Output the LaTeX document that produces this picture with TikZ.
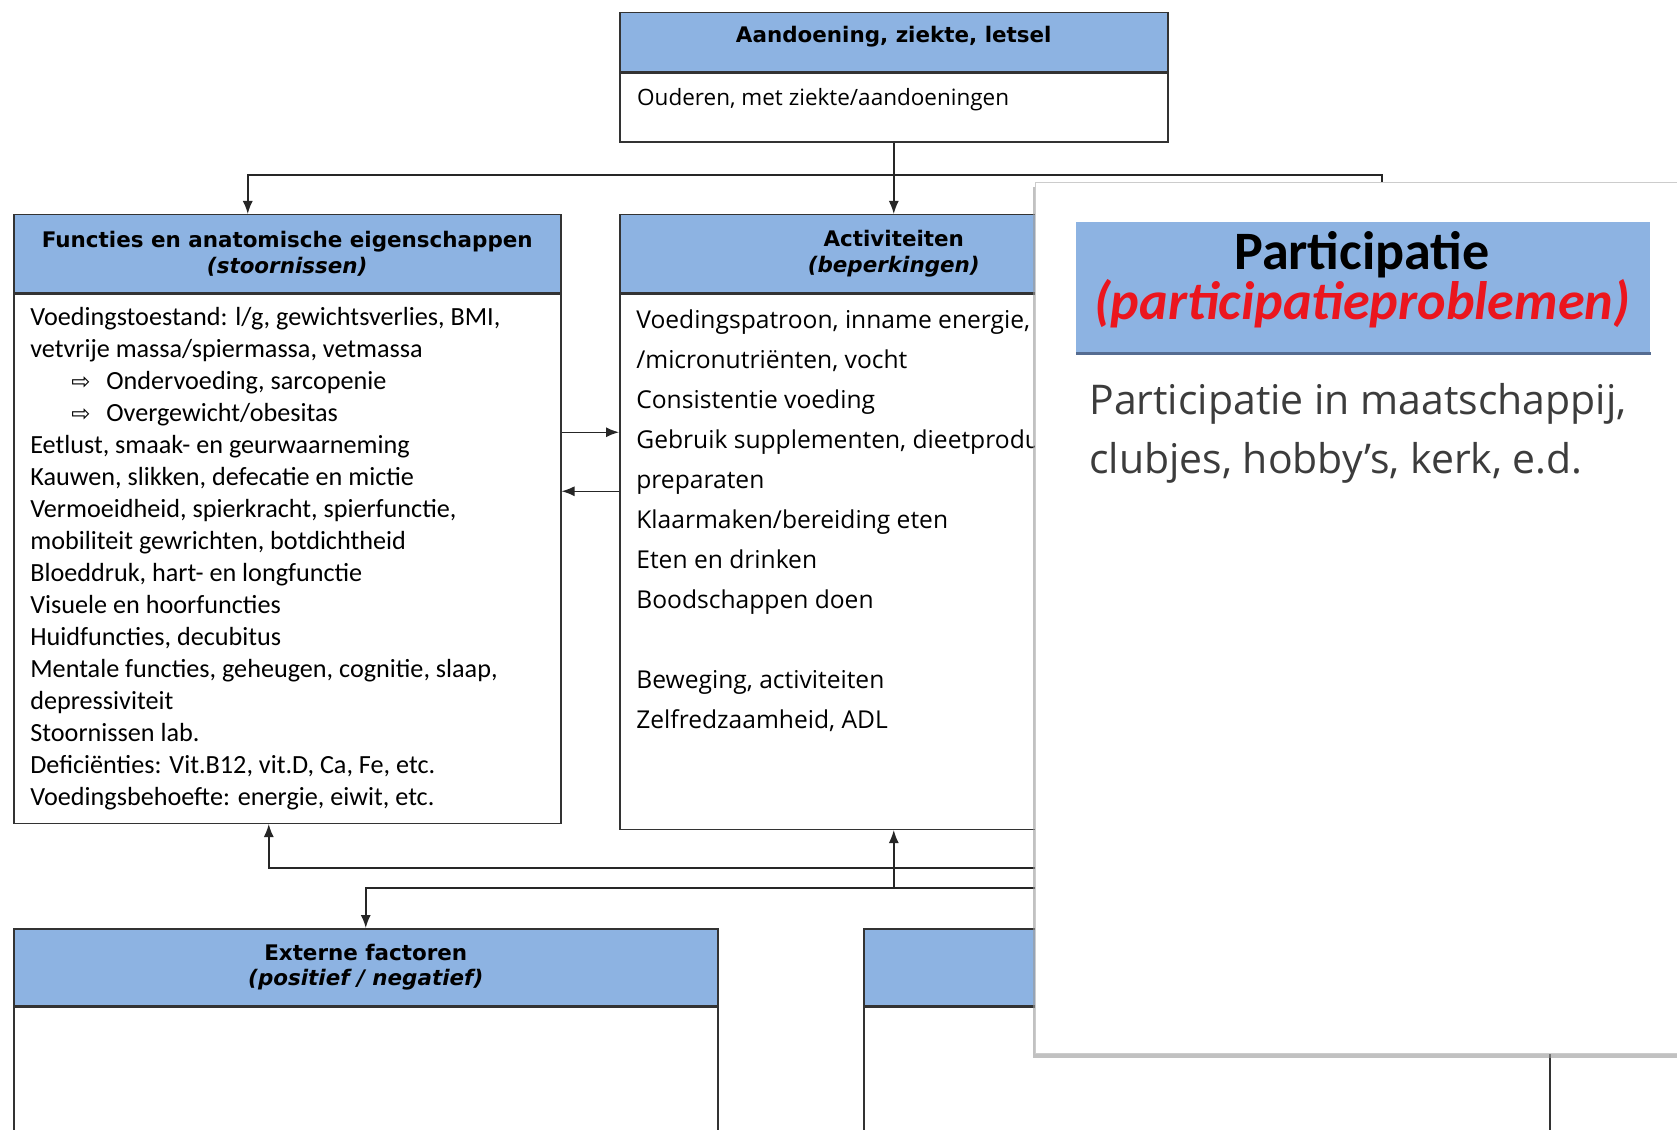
\documentclass[tikz,border=0pt]{standalone}
\usepackage{fontspec}
\setmainfont{Carlito}
\newfontfamily\verdana{DejaVu Sans}
\newfontfamily\segoe{Open Sans}
\newfontfamily\symfont{DejaVu Sans}
\usetikzlibrary{positioning,shadows,arrows.meta}
\definecolor{hdrblue}{RGB}{141,179,226}
\definecolor{partred}{RGB}{235,22,30}
\definecolor{bodygray}{RGB}{60,60,60}
\definecolor{hdrline}{RGB}{85,108,145}
\tikzstyle{hdr}=[draw=black!80,line width=0.3mm,fill=hdrblue,anchor=north west,inner sep=0pt,align=center,font=\verdana\bfseries\fontsize{12.2}{14.6}\selectfont]
\tikzstyle{bodybox}=[draw=black!80,line width=0.3mm,fill=white,inner sep=0pt,below=0pt of #1]
\tikzstyle{bodytext}=[anchor=north west,inner sep=0pt,align=left]
\tikzstyle{link}=[draw=black!85,line width=0.3mm]

\begin{document}
\begin{tikzpicture}[x=0.2mm,y=-0.2mm,>={Latex[length=2.6mm,width=2mm]}]
\clip (0,0) rectangle (1677,1129);
\fill[white] (0,0) rectangle (1677,1129);
% boxes
\node[hdr,minimum width=109.6mm,minimum height=11.8mm] at (619,12) (tophdr) {};
\node[font=\verdana\bfseries\fontsize{12.2}{14.6}\selectfont] at ([yshift=1.1mm]tophdr.center) (toptitle) {Aandoening, ziekte, letsel};
\node[bodybox=tophdr,minimum width=109.6mm,minimum height=13.8mm] (topbody) {};
\node[anchor=base west,font=\segoe\fontsize{12.8}{22.8}\selectfont] at (631,106) (toptext) {Ouderen, met ziekte/aandoeningen};

\node[hdr,minimum width=109.4mm,minimum height=15.6mm] at (13,214) (fhdr) {Functies en anatomische eigenschappen\\\textit{(stoornissen)}};
\node[bodybox=fhdr,minimum width=109.4mm,minimum height=105.8mm] (fbody) {};
\node[bodytext,font=\fontsize{14.9}{18.2}\selectfont] at (30,307) (ftext) {Voedingstoestand: l/g, gewichtsverlies, BMI,\\
vetvrije massa/spiermassa, vetmassa\\
\hspace*{8.2mm}\makebox[7mm][l]{\symfont\fontsize{13}{13}\selectfont ⇨}Ondervoeding, sarcopenie\\
\hspace*{8.2mm}\makebox[7mm][l]{\symfont\fontsize{13}{13}\selectfont ⇨}Overgewicht/obesitas\\
Eetlust, smaak- en geurwaarneming\\
Kauwen, slikken, defecatie en mictie\\
Vermoeidheid, spierkracht, spierfunctie,\\
mobiliteit gewrichten, botdichtheid\\
Bloeddruk, hart- en longfunctie\\
Visuele en hoorfuncties\\
Huidfuncties, decubitus\\
Mentale functies, geheugen, cognitie, slaap,\\
depressiviteit\\
Stoornissen lab.\\
Deficiënties: Vit.B12, vit.D, Ca, Fe, etc.\\
Voedingsbehoefte: energie, eiwit, etc.};

\node[hdr,minimum width=109.6mm,minimum height=15.6mm] at (619,214) (ahdr) {Activiteiten\\\textit{(beperkingen)}};
\node[bodybox=ahdr,minimum width=109.6mm,minimum height=107mm] (abody) {};
\node[bodytext,font=\segoe\fontsize{14}{22.8}\selectfont] at (636,309) (atext) {Voedingspatroon, inname energie,\\
/micronutriënten, vocht\\
Consistentie voeding\\
Gebruik supplementen, dieetproducten\\
preparaten\\
Klaarmaken/bereiding eten\\
Eten en drinken\\
Boodschappen doen\\[22.8pt]
Beweging, activiteiten\\
Zelfredzaamheid, ADL};

\node[hdr,minimum width=140.8mm,minimum height=15.4mm] at (13,928) (exthdr) {Externe factoren\\\textit{(positief / negatief)}};
\node[bodybox=exthdr,minimum width=140.8mm,minimum height=30mm] (extbody) {};

\node[hdr,minimum width=137.2mm,minimum height=15.4mm] at (863,928) (pershdr) {};
\node[bodybox=pershdr,minimum width=137.2mm,minimum height=30mm] (persbody) {};

% connectors
\coordinate (split) at (893,175);
\coordinate (partin) at (1382,230);
\coordinate (partout1) at (1150,868);
\coordinate (partout2) at (1150,888);
\coordinate (fa) at ([yshift=25.3mm]fbody.east);
\coordinate (af) at ([yshift=13.5mm]fbody.east);
\draw[link,->] (topbody.south) -- (ahdr.north);
\draw[link,->] (split) -| ([xshift=-7.9mm]fhdr.north);
\draw[link] (split) -| (partin);
\draw[link,->] (fa) -- (fa -| abody.west);
\draw[link,->] (af -| abody.west) -- (af);
\draw[link,->] (partout1) -| ([xshift=-3.7mm]fbody.south);
\draw[link,->] (partout2) -| (exthdr.north);
\draw[link,->] (partout2 -| abody.south) -- (abody.south);

% zoomed participatie box on top
\node[draw=gray!40,fill=white,anchor=north west,inner sep=0pt,minimum width=140mm,minimum height=174.2mm,
  drop shadow={shadow xshift=-0.5mm,shadow yshift=-0.9mm,fill=gray!80,opacity=0.6}] at (1035,182) (partbox) {};
\node[fill=hdrblue,anchor=north west,inner sep=0pt,minimum width=114.8mm,minimum height=26.2mm] at (1076,222) (parthdr) {};
\draw[hdrline,line width=0.7mm] (parthdr.south west) -- (parthdr.south east);
\node[align=center,font=\bfseries\fontsize{30.8}{28.6}\selectfont] at (1362,280) (parttitle) {Participatie\\\textcolor{partred}{\itshape(participatieproblemen)}};
\node[bodytext,text=bodygray,font=\segoe\fontsize{23.3}{33.6}\selectfont] at (1089,383) (parttext) {Participatie in maatschappij,\\clubjes, hobby’s, kerk, e.d.};
\end{tikzpicture}
\end{document}
